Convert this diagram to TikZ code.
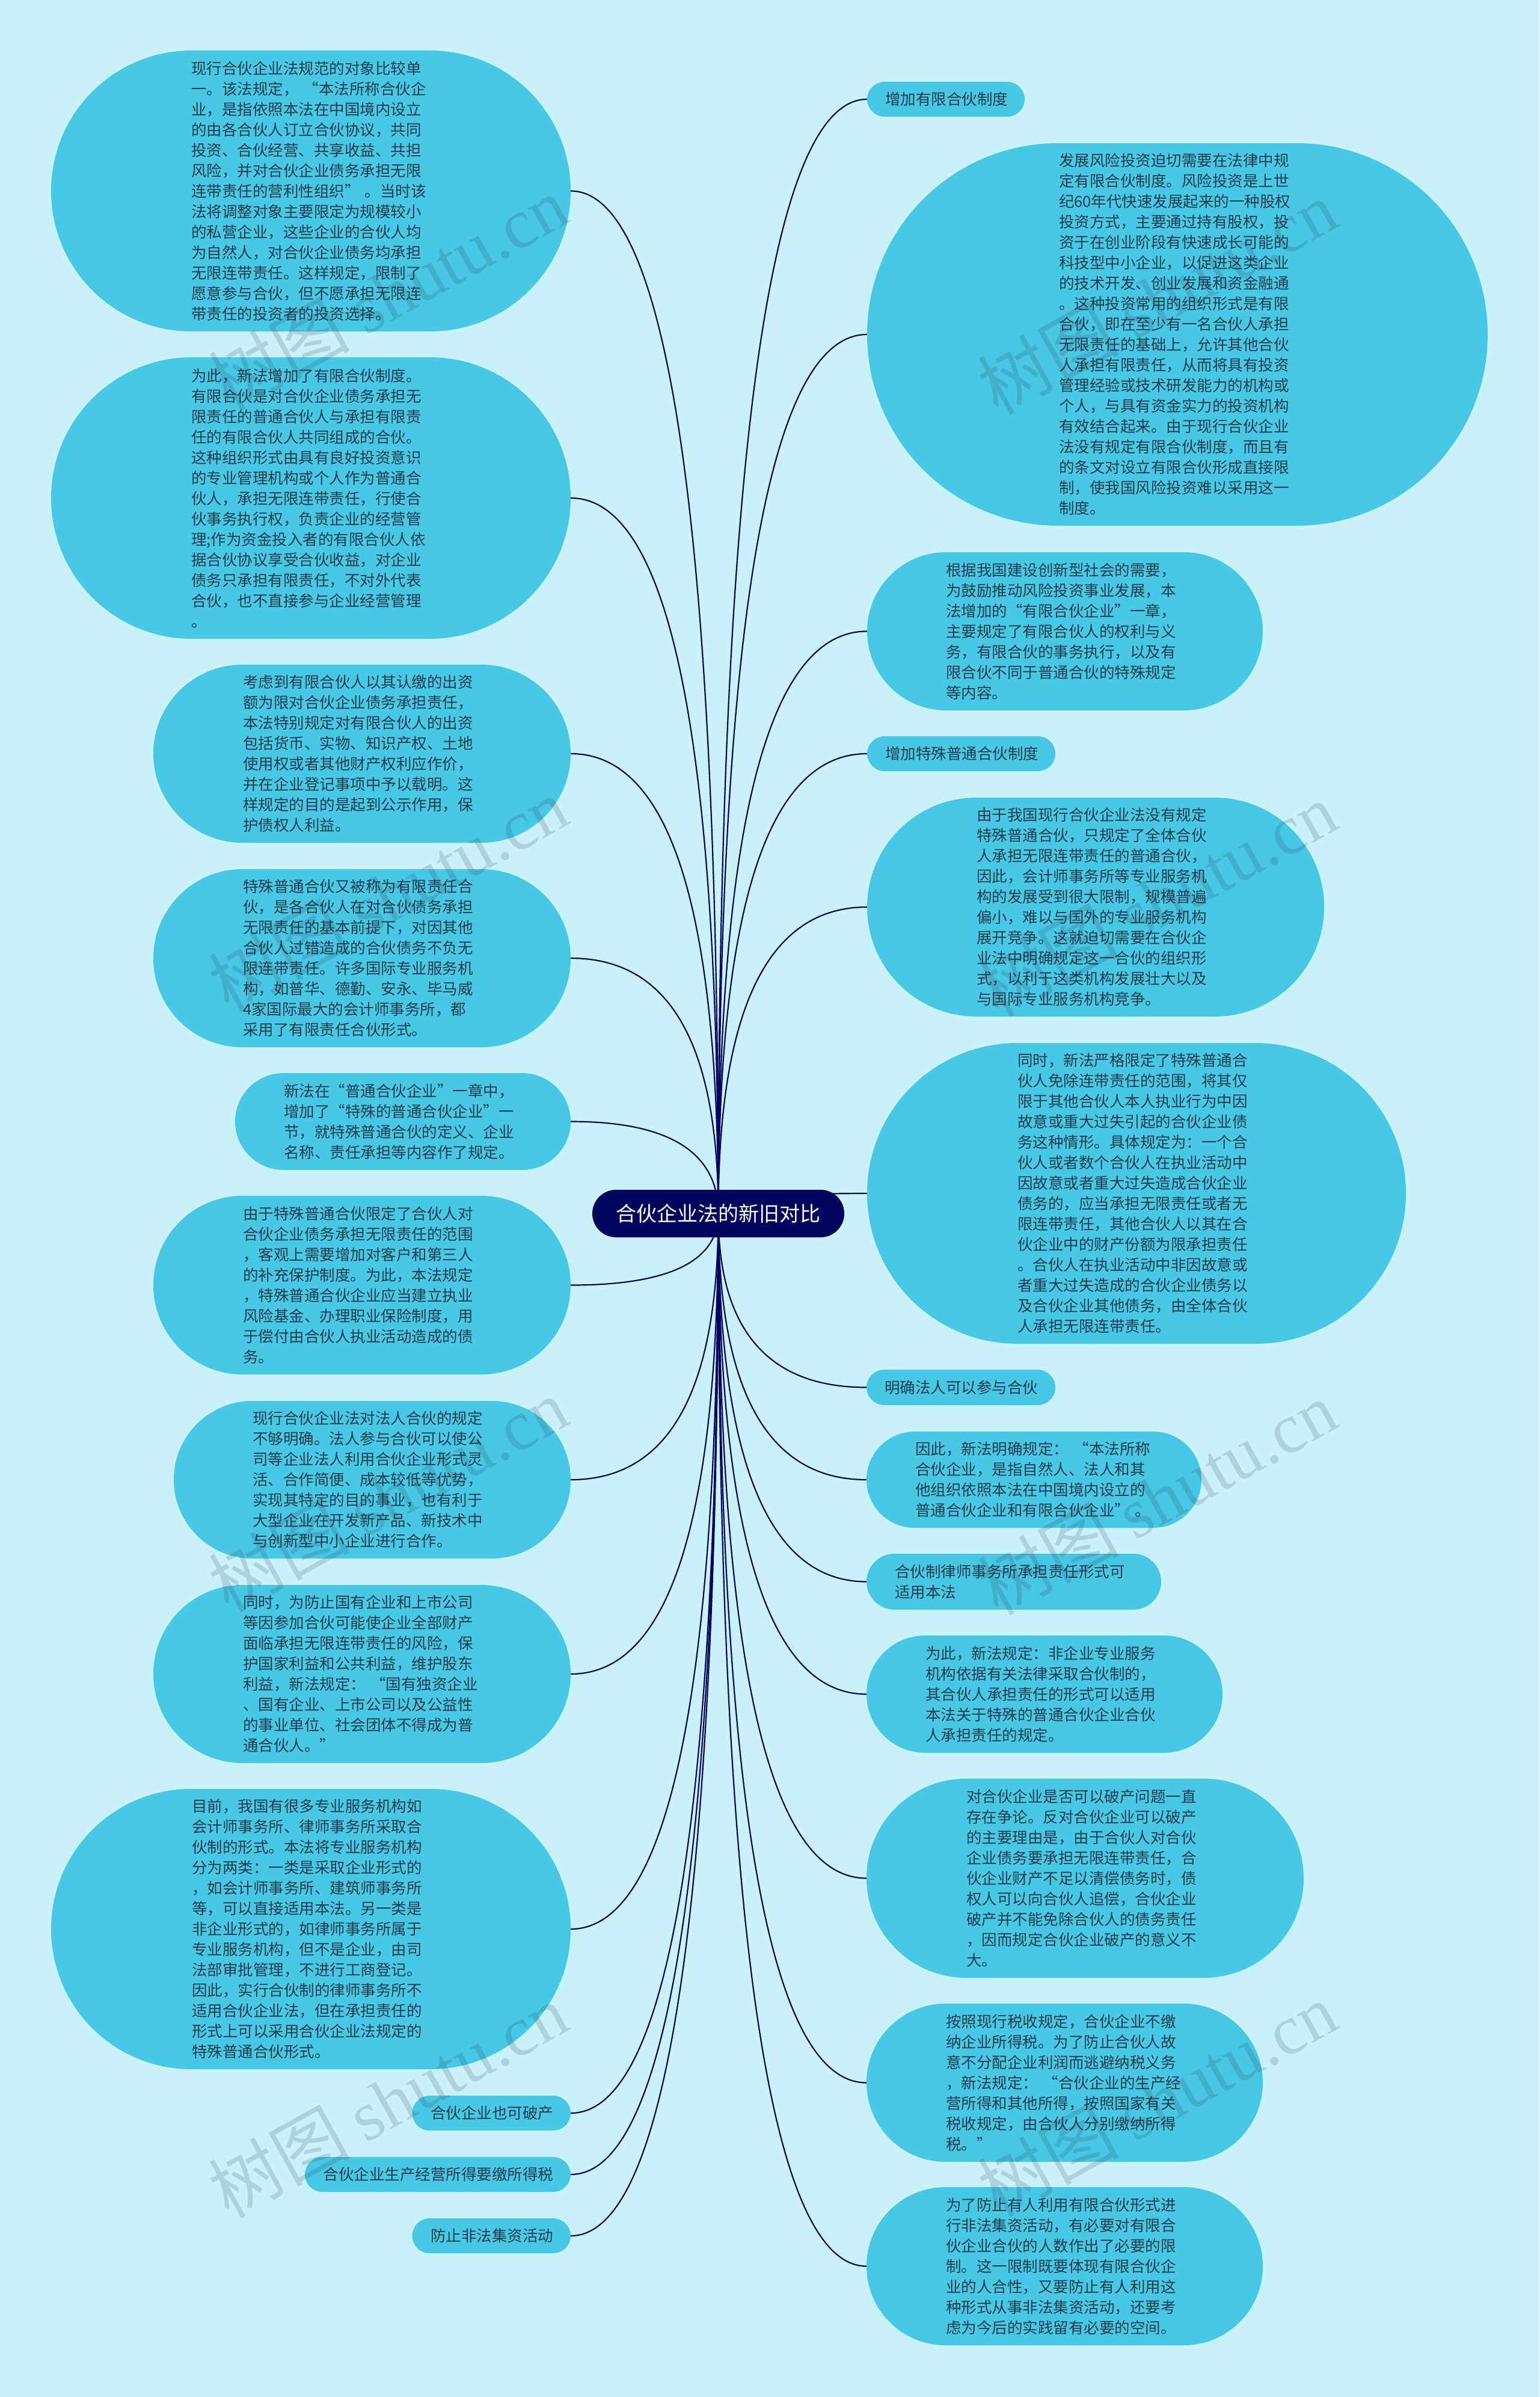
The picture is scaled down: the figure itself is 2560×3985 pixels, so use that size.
\documentclass[tikz,border=0pt]{standalone}
\usepackage{fontspec}
\setmainfont{Noto Sans CJK SC}
\newfontfamily\wmlatin{Liberation Serif}
\usetikzlibrary{calc,backgrounds}
\definecolor{pagebg}{HTML}{C9F2FA}
\definecolor{pillfill}{HTML}{47C8E6}
\definecolor{pilltext}{HTML}{243C4A}
\definecolor{rootfill}{HTML}{02025F}
\definecolor{markcol}{HTML}{303040}
\pgfdeclarelayer{pagelayer}
\pgfdeclarelayer{linklayer}
\pgfsetlayers{pagelayer,linklayer,main}
\tikzset{
  pill/.style={rectangle,fill=pillfill,text=pilltext,inner sep=0pt,align=left,
    font=\fontsize{25.5}{34}\selectfont},
  rootpill/.style={rectangle,fill=rootfill,text=white,inner sep=0pt,align=center,
    font=\fontsize{34}{40}\selectfont},
  link/.style={draw=rootfill,line width=2.2pt},
  watermark/.style={rotate=29,text=markcol,opacity=.17,inner sep=0pt,
    font=\fontsize{117}{121}\selectfont}
}
% name, left, right, top, bottom, text left, text
\newcommand{\pillbox}[7]{%
  \pgfmathsetmacro\cxv{(#2+#3)/2}%
  \pgfmathsetmacro\cyv{(#4+#5)/2}%
  \pgfmathsetmacro\wv{#3-#2}%
  \pgfmathsetmacro\hv{#5-#4}%
  \pgfmathsetmacro\rv{(#5-#4)/2-0.01}%
  \pgfmathsetmacro\twv{2*(\cxv-#6)}%
  \node[pill,minimum width=\wv pt,minimum height=\hv pt,rounded corners=\rv pt,text width=\twv pt] (#1) at (\cxv,\cyv) {#7};}
\newcommand{\linkto}[2]{%
  \draw[link] let \p1=(root.center),\p2=(#1.#2) in
    (\p1) .. controls (\x1,{\y1+0.6667*(\y2-\y1)}) and ({\x1+0.3333*(\x2-\x1)},\y2) .. (\p2);}
\newcommand{\wmark}[3]{\node[watermark] (#1) at (#2,#3) {树图 {\wmlatin shutu.cn}};}
\begin{document}
\begin{tikzpicture}[x=1pt,y=-1pt]
\useasboundingbox (0,0) rectangle (2560,3985);
\begin{pgfonlayer}{pagelayer}
\fill[pagebg] (0,0) rectangle (2560,3985);
\end{pgfonlayer}

\node[rootpill,minimum width=419pt,minimum height=79pt,rounded corners=39.4pt] (root) at (1194.5,2017.5) {合伙企业法的新旧对比};

\pillbox{la}{85}{949}{84}{551}{318}{现行合伙企业法规范的对象比较单\\一。该法规定， “本法所称合伙企\\业，是指依照本法在中国境内设立\\的由各合伙人订立合伙协议，共同\\投资、合伙经营、共享收益、共担\\风险，并对合伙企业债务承担无限\\连带责任的营利性组织” 。当时该\\法将调整对象主要限定为规模较小\\的私营企业，这些企业的合伙人均\\为自然人，对合伙企业债务均承担\\无限连带责任。这样规定，限制了\\愿意参与合伙，但不愿承担无限连\\带责任的投资者的投资选择。}
\pillbox{lb}{85}{949}{594}{1062}{318}{为此，新法增加了有限合伙制度。\\有限合伙是对合伙企业债务承担无\\限责任的普通合伙人与承担有限责\\任的有限合伙人共同组成的合伙。\\这种组织形式由具有良好投资意识\\的专业管理机构或个人作为普通合\\伙人，承担无限连带责任，行使合\\伙事务执行权，负责企业的经营管\\理;作为资金投入者的有限合伙人依\\据合伙协议享受合伙收益，对企业\\债务只承担有限责任，不对外代表\\合伙，也不直接参与企业经营管理\\。}
\pillbox{lc}{255}{949}{1105}{1401}{404}{考虑到有限合伙人以其认缴的出资\\额为限对合伙企业债务承担责任，\\本法特别规定对有限合伙人的出资\\包括货币、实物、知识产权、土地\\使用权或者其他财产权利应作价，\\并在企业登记事项中予以载明。这\\样规定的目的是起到公示作用，保\\护债权人利益。}
\pillbox{ld}{255}{949}{1445}{1741}{404}{特殊普通合伙又被称为有限责任合\\伙，是各合伙人在对合伙债务承担\\无限责任的基本前提下，对因其他\\合伙人过错造成的合伙债务不负无\\限连带责任。许多国际专业服务机\\构，如普华、德勤、安永、毕马威\\4家国际最大的会计师事务所，都\\采用了有限责任合伙形式。}
\pillbox{le}{391}{949}{1784}{1945}{472}{新法在“普通合伙企业”一章中，\\增加了“特殊的普通合伙企业”一\\节，就特殊普通合伙的定义、企业\\名称、责任承担等内容作了规定。}
\pillbox{lf}{255}{949}{1988}{2285}{404}{由于特殊普通合伙限定了合伙人对\\合伙企业债务承担无限责任的范围\\，客观上需要增加对客户和第三人\\的补充保护制度。为此，本法规定\\，特殊普通合伙企业应当建立执业\\风险基金、办理职业保险制度，用\\于偿付由合伙人执业活动造成的债\\务。}
\pillbox{lg}{289}{949}{2329}{2591}{420}{现行合伙企业法对法人合伙的规定\\不够明确。法人参与合伙可以使公\\司等企业法人利用合伙企业形式灵\\活、合作简便、成本较低等优势，\\实现其特定的目的事业，也有利于\\大型企业在开发新产品、新技术中\\与创新型中小企业进行合作。}
\pillbox{lh}{255}{949}{2635}{2931}{404}{同时，为防止国有企业和上市公司\\等因参加合伙可能使企业全部财产\\面临承担无限连带责任的风险，保\\护国家利益和公共利益，维护股东\\利益，新法规定： “国有独资企业\\、国有企业、上市公司以及公益性\\的事业单位、社会团体不得成为普\\通合伙人。”}
\pillbox{li}{85}{949}{2974}{3440}{319}{目前，我国有很多专业服务机构如\\会计师事务所、律师事务所采取合\\伙制的形式。本法将专业服务机构\\分为两类：一类是采取企业形式的\\，如会计师事务所、建筑师事务所\\等，可以直接适用本法。另一类是\\非企业形式的，如律师事务所属于\\专业服务机构，但不是企业，由司\\法部审批管理，不进行工商登记。\\因此，实行合伙制的律师事务所不\\适用合伙企业法，但在承担责任的\\形式上可以采用合伙企业法规定的\\特殊普通合伙形式。}
\pillbox{lj}{685.5}{949}{3484}{3542}{716}{合伙企业也可破产}
\pillbox{lk}{507}{949}{3586}{3644}{537.6}{合伙企业生产经营所得要缴所得税}
\pillbox{ll}{685.5}{949}{3688}{3746}{716}{防止非法集资活动}

\pillbox{ra}{1442}{1704}{136}{194}{1472}{增加有限合伙制度}
\pillbox{rb}{1442}{2474}{238}{874}{1761}{发展风险投资迫切需要在法律中规\\定有限合伙制度。风险投资是上世\\纪60年代快速发展起来的一种股权\\投资方式，主要通过持有股权，投\\资于在创业阶段有快速成长可能的\\科技型中小企业，以促进这类企业\\的技术开发、创业发展和资金融通\\。这种投资常用的组织形式是有限\\合伙，即在至少有一名合伙人承担\\无限责任的基础上，允许其他合伙\\人承担有限责任，从而将具有投资\\管理经验或技术研发能力的机构或\\个人，与具有资金实力的投资机构\\有效结合起来。由于现行合伙企业\\法没有规定有限合伙制度，而且有\\的条文对设立有限合伙形成直接限\\制，使我国风险投资难以采用这一\\制度。}
\pillbox{rc}{1442}{2100}{918}{1181}{1573}{根据我国建设创新型社会的需要，\\为鼓励推动风险投资事业发展，本\\法增加的“有限合伙企业”一章，\\主要规定了有限合伙人的权利与义\\务，有限合伙的事务执行，以及有\\限合伙不同于普通合伙的特殊规定\\等内容。}
\pillbox{rd}{1442}{1755}{1224}{1282}{1472}{增加特殊普通合伙制度}
\pillbox{re}{1442}{2202}{1326}{1690}{1624}{由于我国现行合伙企业法没有规定\\特殊普通合伙，只规定了全体合伙\\人承担无限连带责任的普通合伙，\\因此，会计师事务所等专业服务机\\构的发展受到很大限制，规模普遍\\偏小，难以与国外的专业服务机构\\展开竞争。这就迫切需要在合伙企\\业法中明确规定这一合伙的组织形\\式，以利于这类机构发展壮大以及\\与国际专业服务机构竞争。}
\pillbox{rf}{1442}{2338}{1734}{2234}{1692}{同时，新法严格限定了特殊普通合\\伙人免除连带责任的范围，将其仅\\限于其他合伙人本人执业行为中因\\故意或重大过失引起的合伙企业债\\务这种情形。具体规定为：一个合\\伙人或者数个合伙人在执业活动中\\因故意或者重大过失造成合伙企业\\债务的，应当承担无限责任或者无\\限连带责任，其他合伙人以其在合\\伙企业中的财产份额为限承担责任\\。合伙人在执业活动中非因故意或\\者重大过失造成的合伙企业债务以\\及合伙企业其他债务，由全体合伙\\人承担无限连带责任。}
\pillbox{rg}{1441}{1755}{2277}{2336}{1471}{明确法人可以参与合伙}
\pillbox{rh}{1441}{1998}{2380}{2540}{1522}{因此，新法明确规定： “本法所称\\合伙企业，是指自然人、法人和其\\他组织依照本法在中国境内设立的\\普通合伙企业和有限合伙企业” 。}
\pillbox{ri}{1441}{1931}{2583}{2676}{1488}{合伙制律师事务所承担责任形式可\\适用本法}
\pillbox{rj}{1441}{2033}{2719}{2914}{1539}{为此，新法规定：非企业专业服务\\机构依据有关法律采取合伙制的，\\其合伙人承担责任的形式可以适用\\本法关于特殊的普通合伙企业合伙\\人承担责任的规定。}
\pillbox{rk}{1441}{2168}{2957}{3288}{1607}{对合伙企业是否可以破产问题一直\\存在争论。反对合伙企业可以破产\\的主要理由是，由于合伙人对合伙\\企业债务要承担无限连带责任，合\\伙企业财产不足以清偿债务时，债\\权人可以向合伙人追偿，合伙企业\\破产并不能免除合伙人的债务责任\\，因而规定合伙企业破产的意义不\\大。}
\pillbox{rl}{1441}{2100}{3331}{3594}{1573}{按照现行税收规定，合伙企业不缴\\纳企业所得税。为了防止合伙人故\\意不分配企业利润而逃避纳税义务\\，新法规定： “合伙企业的生产经\\营所得和其他所得，按照国家有关\\税收规定，由合伙人分别缴纳所得\\税。”}
\pillbox{rm}{1441}{2100}{3636}{3899}{1573}{为了防止有人利用有限合伙形式进\\行非法集资活动，有必要对有限合\\伙企业合伙的人数作出了必要的限\\制。这一限制既要体现有限合伙企\\业的人合性，又要防止有人利用这\\种形式从事非法集资活动，还要考\\虑为今后的实践留有必要的空间。}

\begin{pgfonlayer}{linklayer}
\foreach \target in {la,lb,lc,ld,le,lf,lg,lh,li,lj,lk,ll} {\linkto{\target}{east}}
\foreach \target in {ra,rb,rc,rd,re,rf,rg,rh,ri,rj,rk,rl,rm} {\linkto{\target}{west}}
\end{pgfonlayer}

\wmark{wa}{645}{487}
\wmark{wb}{645}{1487}
\wmark{wc}{645}{2485}
\wmark{wd}{645}{3492}
\wmark{we}{1924}{494}
\wmark{wf}{1924}{1495}
\wmark{wg}{1924}{2490}
\wmark{wh}{1924}{3490}
\end{tikzpicture}
\end{document}
